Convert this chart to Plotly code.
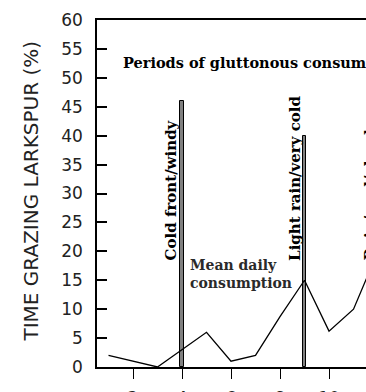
import plotly.graph_objects as go

days = [1, 3, 5, 6, 7, 8, 9, 10, 11, 12]
consumption = [2, 0, 6, 1, 2, 8.7, 15, 6.2, 10, 20]

event_days = [4, 9, 12]
event_heights = [46, 40, 44]
event_labels = ["Cold front/windy", "Light rain/very cold", "Rain/cool/cloudy"]
label_base = 18
label_px_offset = [-11, -9, -8]

x_ticks = [2, 4, 6, 8, 10]
y_ticks = list(range(0, 65, 5))
x_range = [0.53, 11.51]

SERIF = "DejaVu Serif, Liberation Serif, serif"

fig = go.Figure()
fig.add_trace(go.Bar(x=event_days, y=event_heights, width=0.15,
                     marker=dict(color="#808080", line=dict(color="black", width=1)),
                     showlegend=False, hoverinfo="skip"))
fig.add_trace(go.Scatter(x=days, y=consumption, mode="lines",
                         line=dict(color="black", width=1.3), showlegend=False))

bold = dict(family=SERIF, size=14.5, color="black", weight="bold")
vbold = dict(family=SERIF, size=15, color="black", weight="bold")
for d, lab, off in zip(event_days, event_labels, label_px_offset):
    xp = (d - x_range[0]) / (x_range[1] - x_range[0])
    fig.add_annotation(x=xp, xref="paper", xanchor="center", xshift=off,
                       y=label_base, yref="y", yanchor="bottom",
                       text=lab, textangle=-90, showarrow=False, font=vbold)

fig.add_annotation(x=(121 - 97) / 269, xref="paper", y=(367 - 63) / 347, yref="paper",
                   xanchor="left", yanchor="middle", showarrow=False,
                   text="Periods of gluttonous consumption", font=bold)
fig.add_annotation(x=(188 - 97) / 269, xref="paper", y=(367 - 274) / 347, yref="paper",
                   xanchor="left", yanchor="middle", showarrow=False, align="left",
                   text="Mean daily<br>consumption",
                   font=dict(family=SERIF, size=14, color="#2a2a2a", weight="bold"))
fig.add_annotation(x=(30.5 - 97) / 269, xref="paper", y=(367 - 191) / 347, yref="paper",
                   xanchor="center", yanchor="middle", showarrow=False, textangle=-90,
                   text="TIME GRAZING LARKSPUR (%)",
                   font=dict(family="DejaVu Sans", size=20, color="#222"))

fig.update_layout(
    width=366, height=392, margin=dict(l=97, r=0, t=20, b=25),
    plot_bgcolor="white", paper_bgcolor="white", bargap=0,
)
fig.update_xaxes(range=x_range, tickvals=x_ticks, ticks="outside", ticklen=10,
                 tickwidth=1.3, tickcolor="black", showline=True, linecolor="black",
                 linewidth=1.5, mirror=True, showgrid=False, zeroline=False,
                 ticklabelstandoff=5, automargin=False,
                 tickfont=dict(family="DejaVu Sans", size=17, color="#222"))
fig.update_yaxes(range=[0, 60], tickvals=y_ticks, ticks="inside", ticklen=10,
                 tickwidth=1.5, tickcolor="black", showline=True, linecolor="black",
                 linewidth=1.5, showgrid=False, zeroline=False, ticklabelstandoff=9,
                 automargin=False,
                 tickfont=dict(family="DejaVu Sans", size=17, color="#222"))

fig.write_html("out.html")
